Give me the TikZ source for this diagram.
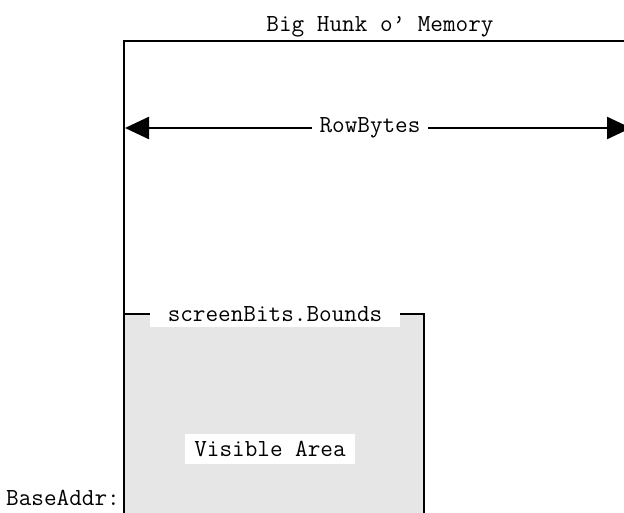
\documentclass[tikz,border=0pt]{standalone}
\usepackage{fontspec}
\usetikzlibrary{arrows.meta}
\definecolor{areagray}{HTML}{E6E6E6}
\begin{document}
\begin{tikzpicture}[x=1pt,y=-1pt,line width=2.5pt,
  lbl/.style={font=\ttfamily\fontsize{24.5}{28}\selectfont,inner sep=0pt},
  whitelbl/.style={lbl,fill=white,minimum height=26pt},
  tip/.style={Triangle[length=24pt,width=22pt]}]
\useasboundingbox (0,0) rectangle (624,513);
% visible area fill
\fill[areagray] (124,314) rectangle (424,513);
% big memory block
\coordinate (tr) at (630,41);
\coordinate (bl) at (124,520);
\draw (bl) |- (tr);
\node[lbl,anchor=base] (title) at (380,32) {Big Hunk o’ Memory};
% RowBytes arrow
\coordinate (al) at (125,128);
\coordinate (ar) at (631,128);
\draw[{Triangle[length=24pt,width=22pt]}-{Triangle[length=24pt,width=22pt]}] (al) -- (ar);
\node[whitelbl,minimum width=116pt] (rb) at (370,128) {RowBytes};
% screen bounds
\coordinate (st) at (124,314);
\coordinate (sb) at (424,520);
\draw (st) -| (sb);
\node[whitelbl,minimum width=250pt] (sbb) at (275,314) {screenBits.Bounds};
\node[whitelbl,minimum width=170pt,minimum height=30pt] (va) at (270,449) {Visible Area};
\node[lbl,anchor=base east] (ba) at (121,505) {BaseAddr:};
\end{tikzpicture}
\end{document}
